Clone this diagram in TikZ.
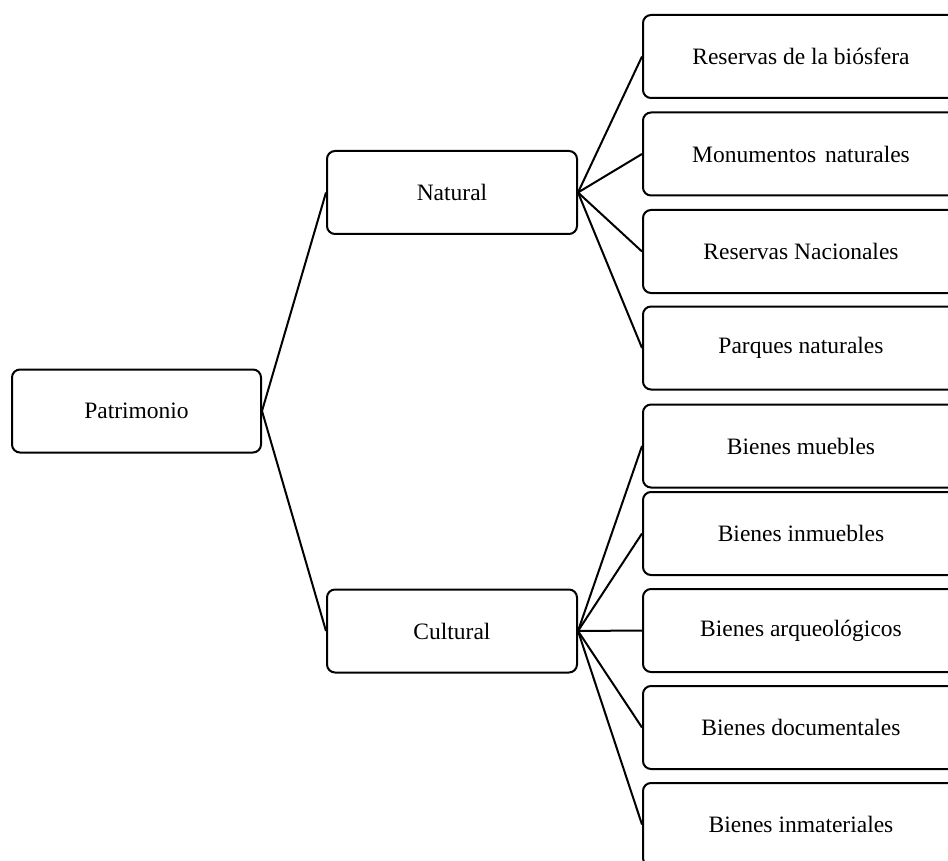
\documentclass[tikz,border=0pt]{standalone}
\usepackage{fontspec}
\setmainfont{Liberation Serif}
\begin{document}
\begin{tikzpicture}[x=1pt,y=-1pt,
  box/.style={draw=black,line width=2pt,rounded corners=8pt,minimum height=83pt,inner sep=0pt,font=\fontsize{23.5}{26}\selectfont},
  leaf/.style={box,minimum width=316pt},
  mid/.style={box,minimum width=250pt},
  conn/.style={line width=2pt}]
\useasboundingbox (0,0) rectangle (948,861);
\node[mid,minimum width=249pt] (pat) at (136.5,411) {Patrimonio};
\node[mid] (nat) at (452,192.5) {Natural};
\node[mid] (cul) at (452,631) {Cultural};
\node[leaf] (r1) at (801,56.5) {Reservas de la biósfera};
\node[leaf] (r2) at (801,154) {Monumentos\hspace{3pt} naturales};
\node[leaf] (r3) at (801,251.5) {Reservas Nacionales};
\node[leaf] (r4) at (801,348) {Parques naturales};
\node[leaf] (c1) at (801,446) {Bienes muebles};
\node[leaf] (c2) at (801,533.5) {Bienes inmuebles};
\node[leaf] (c3) at (801,630.5) {Bienes arqueológicos};
\node[leaf] (c4) at (801,727.5) {Bienes documentales};
\node[leaf] (c5) at (801,824.5) {Bienes inmateriales};
\draw[conn] (pat.east) -- (nat.west);
\draw[conn] (pat.east) -- (cul.west);
\foreach \n in {r1,r2,r3,r4} \draw[conn] (nat.east) -- (\n.west);
\foreach \n in {c1,c2,c3,c4,c5} \draw[conn] (cul.east) -- (\n.west);
\end{tikzpicture}
\end{document}
